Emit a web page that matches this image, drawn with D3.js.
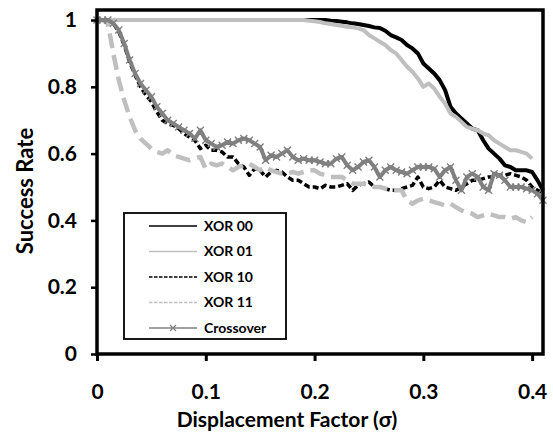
<!DOCTYPE html>
<html>
<head>
<meta charset="utf-8">
<script src="https://cdn.jsdelivr.net/npm/d3@7"></script>
<style>
  body { margin: 0; background: #fff; }
  svg text { font-family: Lato, "Open Sans", sans-serif; font-weight: bold; fill: #000; }
</style>
</head>
<body>
<div id="chart"></div>
<script>
// x values: 0 .. 0.41 in steps of 0.005
var xValues = [0,0.005,0.01,0.015,0.02,0.025,0.03,0.035,0.04,0.045,0.05,0.055,0.06,0.065,0.07,0.075,0.08,0.085,0.09,0.095,
  0.1,0.105,0.11,0.115,0.12,0.125,0.13,0.135,0.14,0.145,0.15,0.155,0.16,0.165,0.17,0.175,0.18,0.185,0.19,0.195,
  0.2,0.205,0.21,0.215,0.22,0.225,0.23,0.235,0.24,0.245,0.25,0.255,0.26,0.265,0.27,0.275,0.28,0.285,0.29,0.295,
  0.3,0.305,0.31,0.315,0.32,0.325,0.33,0.335,0.34,0.345,0.35,0.355,0.36,0.365,0.37,0.375,0.38,0.385,0.39,0.395,
  0.4,0.405,0.41];

var xor00 = [1,1,1,1,1,1,1,1,1,1,1,1,1,1,1,1,1,1,1,1,
  1,1,1,1,1,1,1,1,1,1,1,1,1,1,1,1,1,1,1,1,
  1,1,1,0.998,0.997,0.995,0.993,0.99,0.988,0.985,0.982,0.978,0.976,0.968,0.955,0.948,0.94,0.925,0.915,0.9,
  0.87,0.855,0.84,0.82,0.79,0.74,0.72,0.705,0.69,0.675,0.67,0.64,0.615,0.6,0.585,0.565,0.56,0.55,0.55,0.55,
  0.545,0.52,0.49];

var xor01 = [1,1,1,1,1,1,1,1,1,1,1,1,1,1,1,1,1,1,1,1,
  1,1,1,1,1,1,1,1,1,1,1,1,1,1,1,1,1,1,1,0.998,
  0.996,0.994,0.99,0.988,0.985,0.983,0.98,0.978,0.975,0.97,0.955,0.945,0.935,0.925,0.91,0.9,0.88,0.86,0.845,0.825,
  0.8,0.81,0.795,0.77,0.75,0.72,0.71,0.695,0.68,0.675,0.67,0.66,0.655,0.64,0.63,0.62,0.61,0.61,0.605,0.6,
  0.585,null,null];

var xor10 = [1,1,1,0.99,0.965,0.925,0.875,0.835,0.8,0.775,0.755,0.725,0.7,0.69,0.685,0.675,0.66,0.65,0.64,0.615,
  0.625,0.61,0.61,0.605,0.59,0.59,0.57,0.56,0.535,0.555,0.55,0.53,0.545,0.55,0.545,0.53,0.52,0.52,0.51,0.5,
  0.5,0.495,0.505,0.5,0.5,0.505,0.51,0.49,0.505,0.51,0.515,0.5,0.5,0.495,0.49,0.49,0.495,0.5,0.505,0.53,
  0.5,0.495,0.5,0.52,0.5,0.495,0.49,0.5,0.51,0.52,0.52,0.525,0.53,0.53,0.535,0.535,0.54,0.535,0.53,0.52,
  0.5,0.49,0.48];

var xor11 = [1,1,0.99,0.9,0.82,0.76,0.71,0.67,0.645,0.63,0.615,0.605,0.6,0.61,0.595,0.59,0.585,0.58,0.585,0.59,
  0.555,0.57,0.565,0.57,0.56,0.55,0.56,0.565,0.57,0.56,0.55,0.56,0.55,0.545,0.54,0.54,0.545,0.54,0.545,0.55,
  0.55,0.54,0.535,0.53,0.53,0.53,0.52,0.51,0.51,0.51,0.505,0.5,0.5,0.495,0.49,0.49,0.49,0.46,0.45,0.46,
  0.465,0.46,0.455,0.45,0.445,0.45,0.44,0.43,0.425,0.42,0.41,0.415,0.42,0.415,0.41,0.41,0.405,0.41,0.4,0.395,
  0.41,null,null];

var crossover = [1,1,1,0.99,0.97,0.93,0.88,0.84,0.81,0.79,0.77,0.74,0.72,0.7,0.69,0.68,0.67,0.66,0.645,0.67,
  0.64,0.63,0.62,0.625,0.635,0.63,0.64,0.645,0.64,0.63,0.62,0.58,0.595,0.59,0.6,0.61,0.59,0.58,0.585,0.58,
  0.58,0.575,0.57,0.57,0.585,0.59,0.565,0.55,0.56,0.575,0.58,0.56,0.53,0.55,0.56,0.55,0.545,0.54,0.55,0.56,
  0.56,0.56,0.555,0.53,0.55,0.56,0.52,0.49,0.53,0.54,0.53,0.5,0.49,0.54,0.535,0.52,0.5,0.5,0.5,0.495,
  0.49,0.48,0.46];

var seriesNames = ["XOR 00", "XOR 01", "XOR 10", "XOR 11", "Crossover"];
var xTicks = [0, 0.1, 0.2, 0.3, 0.4];
var yTicks = [0, 0.2, 0.4, 0.6, 0.8, 1];

var width = 553, height = 433;
var plotLeft = 97, plotRight = 543, plotTop = 10, plotBottom = 354;

var svg = d3.select("#chart").append("svg")
    .attr("width", width)
    .attr("height", height);

var x = d3.scaleLinear().domain([0, 0.41]).range([plotLeft, plotRight]);
var y = d3.scaleLinear().domain([0, 1.03]).range([plotBottom, plotTop]);

var styles = [
  {color: "#000", width: 4, dash: null},
  {color: "#bfbfbf", width: 4, dash: null},
  {color: "#000", width: 3.5, dash: "6,3"},
  {color: "#bfbfbf", width: 4.5, dash: "15,7"},
  {color: "#808080", width: 4, dash: null}
];
var seriesData = [xor00, xor01, xor10, xor11, crossover];

var line = d3.line()
    .defined(function(d) { return d[1] != null; })
    .x(function(d) { return x(d[0]); })
    .y(function(d) { return y(d[1]); });

var plot = svg.append("g");

seriesData.forEach(function(vals, i) {
  var pts = xValues.map(function(xv, j) { return [xv, vals[j]]; });
  plot.append("path")
      .datum(pts)
      .attr("fill", "none")
      .attr("stroke", styles[i].color)
      .attr("stroke-width", styles[i].width)
      .attr("stroke-dasharray", styles[i].dash)
      .attr("stroke-linejoin", "round")
      .attr("d", line);
  if (i == 4) {
    plot.selectAll(".mk")
        .data(pts)
        .enter().append("path")
        .attr("class", "mk")
        .attr("transform", function(d) { return "translate(" + x(d[0]) + "," + y(d[1]) + ")"; })
        .attr("d", "M-3.5,-3.5L3.5,3.5M-3.5,3.5L3.5,-3.5")
        .attr("stroke", "#808080")
        .attr("stroke-width", 1.4);
  }
});

// frame
svg.append("rect")
    .attr("x", plotLeft).attr("y", plotTop)
    .attr("width", plotRight - plotLeft).attr("height", plotBottom - plotTop)
    .attr("fill", "none")
    .attr("stroke", "#000")
    .attr("stroke-width", 3.5);

// axes
var yAxis = d3.axisLeft(y).tickValues(yTicks).tickSize(6).tickSizeOuter(0).tickPadding(14)
    .tickFormat(function(d) { return d; });
var gy = svg.append("g").attr("transform", "translate(" + plotLeft + ",0)").call(yAxis);
gy.select(".domain").remove();
gy.selectAll("line").attr("stroke", "#000").attr("stroke-width", 2.5);
gy.selectAll("text").style("font-size", "21px").style("font-family", "Lato, sans-serif").attr("font-weight", "bold");

var xAxis = d3.axisBottom(x).tickValues(xTicks).tickSize(7).tickSizeOuter(0).tickPadding(23)
    .tickFormat(function(d) { return d; });
var gx = svg.append("g").attr("transform", "translate(0," + plotBottom + ")").call(xAxis);
gx.select(".domain").remove();
gx.selectAll("line").attr("stroke", "#000").attr("stroke-width", 3);
gx.selectAll("text").style("font-size", "21px").style("font-family", "Lato, sans-serif").attr("font-weight", "bold");

svg.append("text")
    .attr("x", 287).attr("y", 427)
    .attr("text-anchor", "middle")
    .style("font-size", "21px")
    .text("Displacement Factor (σ)");

svg.append("text")
    .attr("transform", "translate(33,191) rotate(-90)")
    .attr("text-anchor", "middle")
    .style("font-size", "22px")
    .text("Success Rate");

// legend
var legend = svg.append("g");
legend.append("rect")
    .attr("x", 124).attr("y", 213)
    .attr("width", 162).attr("height", 126)
    .attr("fill", "#fff")
    .attr("stroke", "#000")
    .attr("stroke-width", 1.8);

var ly = d3.scalePoint().domain(seriesNames).range([226, 328]);

seriesNames.forEach(function(name, i) {
  var yy = ly(name);
  legend.append("line")
      .attr("x1", 149).attr("x2", 197)
      .attr("y1", yy).attr("y2", yy)
      .attr("stroke", styles[i].color)
      .attr("stroke-width", 1.5)
      .attr("stroke-dasharray", styles[i].dash ? "3.5,1.5" : null);
  if (i == 4) {
    legend.append("path")
        .attr("transform", "translate(173," + yy + ")")
        .attr("d", "M-3,-3L3,3M-3,3L3,-3")
        .attr("stroke", "#808080")
        .attr("stroke-width", 1.2);
  }
  legend.append("text")
      .attr("x", 204).attr("y", yy)
      .attr("dy", "0.35em")
      .style("font-size", "14px")
      .text(name);
});
</script>
</body>
</html>
